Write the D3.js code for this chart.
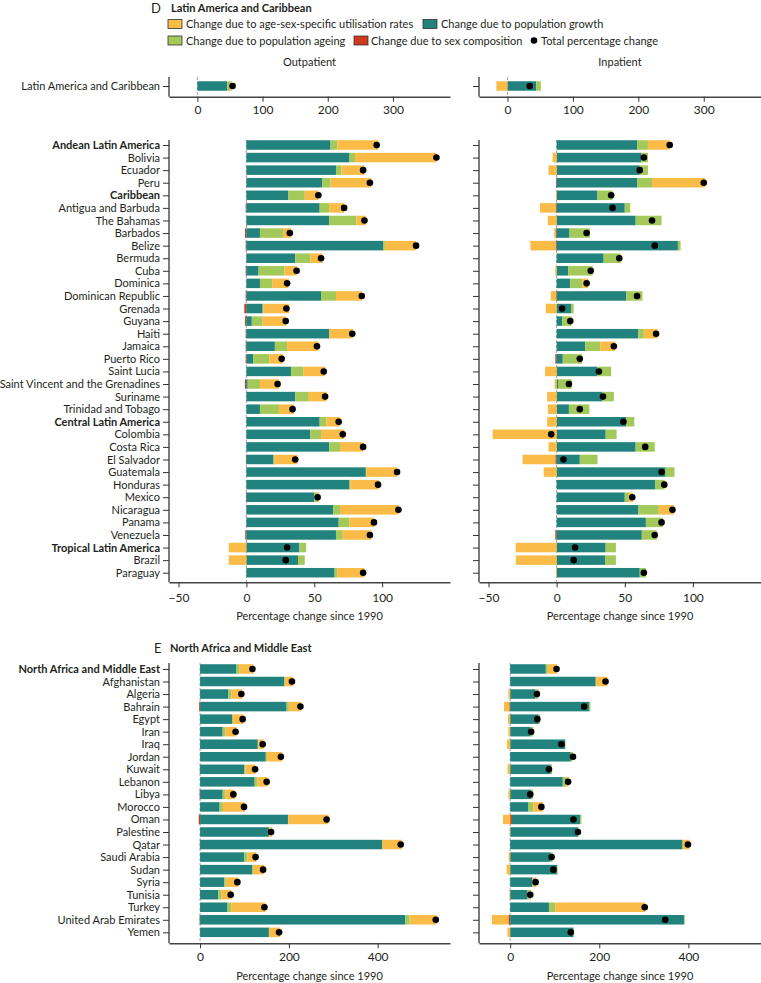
<!DOCTYPE html>
<html><head><meta charset="utf-8">
<script src="https://cdn.jsdelivr.net/npm/d3@7"></script>
<style>
body{margin:0;background:#fff}
svg{display:block}
text{font-family:Lato,"Noto Sans",sans-serif;fill:#231f20}
</style>
</head><body>
<svg id="c" width="761" height="983"></svg>
<script>
// ---------- DATA ----------
const legendLabels = ["Change due to age-sex-specific utilisation rates","Change due to population growth","Change due to population ageing","Change due to sex composition","Total percentage change"];

const topCats = ["Latin America and Caribbean"];
const topOutGrowth = [46], topOutAgeing = [5], topOutUtil = [2], topOutSex = [0], topOutTotal = [54];
const topInGrowth = [44], topInAgeing = [7], topInUtil = [-17], topInSex = [0], topInTotal = [34];
const topTicks = [0,100,200,300];

const dCats = ["Andean Latin America","Bolivia","Ecuador","Peru","Caribbean","Antigua and Barbuda","The Bahamas","Barbados","Belize","Bermuda","Cuba","Dominica","Dominican Republic","Grenada","Guyana","Haiti","Jamaica","Puerto Rico","Saint Lucia","Saint Vincent and the Grenadines","Suriname","Trinidad and Tobago","Central Latin America","Colombia","Costa Rica","El Salvador","Guatemala","Honduras","Mexico","Nicaragua","Panama","Venezuela","Tropical Latin America","Brazil","Paraguay"];
const dBold = ["Andean Latin America","Caribbean","Central Latin America","Tropical Latin America"];
const dOutGrowth = [62,76,66,56,31,54,61,10,101,36,9,10,55,12,4,61,21,5,33,1,36,10,54,47,61,20,88,76,50,64,68,66,39,38,65];
const dOutAgeing = [5,4,4,6,12,7,20,17,1,11,19,9,11,0.5,8,0.5,9,12,9,9,10,14,5,8,8,0.5,0.3,0.5,3,5,8,5,5,5,2];
const dOutUtil   = [30,60,17,30,10,11,7,6,23,9,9,12,19,19,17,17,23,10,16,14,13,11,10,17,17,17,23,21,0.5,43,18,21,-13,-13,20];
const dOutSex    = [0,0,0,0,0,-0.5,0,-1,-0.5,0,-0.5,0,-0.5,-1.5,-1,-0.5,-0.5,-0.5,0,-1,0,0,0,0,0,-0.3,0,0,-0.3,0,0,-0.8,0,0,0];
const dOutTotal  = [96,140,86,91,53,72,87,32,125,55,37,30,85,29.5,29,78,52,26,57,23,58,34,68,71,86,36,111,97,52.5,112,94,91,30,29,86];
const dInGrowth  = [59,62,61,59,30,50,58,9.5,89,34.5,8.5,10,51,10.5,4,60,21,4.5,30,1,33.5,9,51,36,58,17,80,72.5,50,60,65.5,62.5,36,35.5,61];
const dInAgeing  = [8,5,6,11,11,4,19,15,2,12,18,9,12,2,7,4,11,14,10,10,8.5,15,6,8,14,13,6.5,6.5,3,15,12.5,11,7.5,8,4.5];
const dInUtil    = [16,-3,-6,39,-0.5,-11.5,-6.5,-1,-18.5,0.5,-1,4,-4,-8,0,10,11,0,-8.5,-1.5,-7,-6.5,-7,-47,-6,-24,-9.5,0.5,3,11,0,0,-30,-30,-0.5];
const dInSex     = [0,0,0,-0.5,0,-0.8,0,-0.8,-0.8,0,0,0,-0.3,0,0,0,0,-1,0,0,0,0,0,0,0,-1,0,0,0,0,0,-1,0,0,0];
const dInTotal   = [83,64,61,108,40,41,70,22,72,46,25,22,59,4,10,73,42,17,31,9,34,17,49,-4,65,5,77,79,55.5,85,77,72,13.5,12.5,64];
const dTicks = [-50,0,50,100];

const eCats = ["North Africa and Middle East","Afghanistan","Algeria","Bahrain","Egypt","Iran","Iraq","Jordan","Kuwait","Lebanon","Libya","Morocco","Oman","Palestine","Qatar","Saudi Arabia","Sudan","Syria","Tunisia","Turkey","United Arab Emirates","Yemen"];
const eBold = ["North Africa and Middle East"];
const eOutGrowth = [82,190,64,195,72,51,130,148,100,123,51,44,198,155,410,100,118,55,41,62,462,155];
const eOutAgeing = [6,1.5,7,5,2,6,1.5,3,2,6,6,7.5,1,0.5,0.5,7,1,3,7.5,8,10,0.5];
const eOutUtil   = [32,18,24,28,24,25,12,34,23,23,21,49,90,7,44,20,25,28,22.5,77,61,25];
const eOutSex    = [0,0,0,-2,0,0,0,0,-0.5,0,-1,0,-3,0,-0.5,0,0,0,0,0,-1,0];
const eOutTotal  = [118,207,93,226,96,80,141,182,124,150,75,99,285,160,452,125,142,84,69,145,531,178];
const eInGrowth  = [80,192,57,177,64,46,123,136,91,118,47,40,153,152,387,91,105,50,39,87,390,142];
const eInAgeing  = [4.5,1,7,3,3,6,1,3,3,7.5,4.5,12,3,2,0.5,4.5,1,3,8,14,2,0.5];
const eInUtil    = [21,25,-4,-12,-5,-4,-7,2,-6,6,-4,21,-16,-1,15,-3.5,-8,6,-1.5,202,-37,-6];
const eInSex     = [0,0,0,-2,0,0,0,0,0,0,0,0,4,0,0,0,0,0,0,0,-4,0];
const eInTotal   = [104,214,60,166,61,47,115,141,87,130,45,70,142,152,399,93,97,57,45,302,348,136];
const eTicks = [0,200,400];

// ---------- DRAW ----------
const COL = {growth:"#22827d", ageing:"#a3c95a", util:"#fbbb47", sex:"#d03a1c"};
const ORDER = ["sex","growth","ageing","util"];
const svg = d3.select("#c");
const LEFT = [169, 450], RIGHT = [479, 761];
const BAR_H = 9.5;

function panel(opt){
  const g = svg.append("g");
  const x = d3.scaleLinear().domain(opt.xDomain).range(opt.xRange);
  const y = d3.scalePoint().domain(opt.cats).range(opt.yRange).padding(0.5);
  g.append("line").attr("x1",x(0)).attr("x2",x(0)).attr("y1",opt.lineTop).attr("y2",opt.axisY)
    .attr("stroke","#9aa3a6").attr("stroke-width",1).attr("stroke-dasharray","3,2");
  opt.cats.forEach((c,i)=>{
    let pos=0, neg=0;
    ORDER.forEach(k=>{
      const v = opt.series[k][i];
      if(!v) return;
      let a,b;
      if(v>=0){a=pos; pos+=v; b=pos;} else {b=neg; neg+=v; a=neg;}
      g.append("rect").attr("x",x(a)).attr("width",Math.max(0.6,x(b)-x(a)))
        .attr("y",y(c)-BAR_H/2).attr("height",BAR_H).attr("fill",COL[k]);
    });
  });
  g.selectAll("circle.tot").data(opt.cats).enter().append("circle")
    .attr("cx",(c,i)=>x(opt.total[i])).attr("cy",c=>y(c)).attr("r",3.3).attr("fill","#000");
  g.append("line").attr("x1",opt.xRange[0]).attr("x2",opt.xRange[0]).attr("y1",opt.lineTop).attr("y2",opt.axisY)
    .attr("stroke","#444").attr("stroke-width",1.4);
  const ya = d3.axisLeft(y).tickSize(6).tickPadding(3);
  if(!opt.labels) ya.tickFormat("");
  const yg = g.append("g").attr("transform",`translate(${opt.xRange[0]},0)`).call(ya);
  yg.select(".domain").remove();
  yg.selectAll("line").attr("stroke","#333");
  yg.selectAll("text").style("font-size","11px").attr("fill","#231f20")
    .style("font-weight",d=>opt.bold && opt.bold.includes(d)?"700":"400");
  const xa = d3.axisBottom(x).tickValues(opt.ticks).tickSize(5).tickSizeOuter(0).tickPadding(opt.tickPad);
  const xg = g.append("g").attr("transform",`translate(0,${opt.axisY})`).call(xa);
  xg.select(".domain").attr("stroke","#444").attr("stroke-width",1.4);
  xg.selectAll("line").attr("stroke","#333");
  xg.selectAll("text").style("font-size","12px").attr("fill","#231f20");
  if(opt.title){
    g.append("text").attr("x",(opt.xRange[0]+opt.xRange[1])/2).attr("y",opt.titleY)
      .attr("text-anchor","middle").style("font-size","11px").text(opt.title);
  }
}

function ser(g,a,u,s){return {growth:g,ageing:a,util:u,sex:s};}

// Header D
svg.append("text").attr("x",151).attr("y",13).style("font-size","13px").text("D");
svg.append("text").attr("x",171).attr("y",11.5).style("font-size","11px").style("font-weight","700").text("Latin America and Caribbean");

// Legend
const legendItems = [
  {t:legendLabels[0], c:COL.util, x:168, tx:186, y:24},
  {t:legendLabels[1], c:COL.growth, x:423, tx:441, y:24},
  {t:legendLabels[2], c:COL.ageing, x:168, tx:186, y:40.5},
  {t:legendLabels[3], c:COL.sex, x:354, tx:371, y:40.5},
];
legendItems.forEach(d=>{
  svg.append("rect").attr("x",d.x).attr("y",d.y-4.5).attr("width",14).attr("height",9)
    .attr("fill",d.c).attr("stroke","#333").attr("stroke-width",0.8);
  svg.append("text").attr("x",d.tx).attr("y",d.y+4).style("font-size","11px").text(d.t);
});
svg.append("circle").attr("cx",534).attr("cy",40.5).attr("r",3.3).attr("fill","#000");
svg.append("text").attr("x",541).attr("y",44.5).style("font-size","11px").text(legendLabels[4]);

svg.append("text").attr("x",(LEFT[0]+LEFT[1])/2).attr("y",66).attr("text-anchor","middle").style("font-size","11px").text("Outpatient");
svg.append("text").attr("x",(RIGHT[0]+RIGHT[1])/2).attr("y",66).attr("text-anchor","middle").style("font-size","11px").text("Inpatient");

// Top panels
const topY = [80.5, 91.5];
panel({cats:topCats, series:ser(topOutGrowth,topOutAgeing,topOutUtil,topOutSex), total:topOutTotal,
  xDomain:[-43.5,387.5], xRange:LEFT, yRange:topY, lineTop:77, axisY:96.7, ticks:topTicks, tickPad:4, labels:true});
panel({cats:topCats, series:ser(topInGrowth,topInAgeing,topInUtil,topInSex), total:topInTotal,
  xDomain:[-43.5,387.5], xRange:RIGHT, yRange:topY, lineTop:77, axisY:96.7, ticks:topTicks, tickPad:4, labels:false});

// D panels
const dY = [138.7, 579];
panel({cats:dCats, bold:dBold, series:ser(dOutGrowth,dOutAgeing,dOutUtil,dOutSex), total:dOutTotal,
  xDomain:[-57,150], xRange:LEFT, yRange:dY, lineTop:140, axisY:582.3, ticks:dTicks, tickPad:6,
  labels:true, title:"Percentage change since 1990", titleY:620});
panel({cats:dCats, series:ser(dInGrowth,dInAgeing,dInUtil,dInSex), total:dInTotal,
  xDomain:[-57,150], xRange:RIGHT, yRange:dY, lineTop:140, axisY:582.3, ticks:dTicks, tickPad:6,
  labels:false, title:"Percentage change since 1990", titleY:620});

// Header E
svg.append("text").attr("x",154).attr("y",653).style("font-size","13px").text("E");
svg.append("text").attr("x",170).attr("y",652).style("font-size","11px").style("font-weight","700").text("North Africa and Middle East");

const eY = [662.7, 938.6];
panel({cats:eCats, bold:eBold, series:ser(eOutGrowth,eOutAgeing,eOutUtil,eOutSex), total:eOutTotal,
  xDomain:[-70,563], xRange:LEFT, yRange:eY, lineTop:663, axisY:943.3, ticks:eTicks, tickPad:4,
  labels:true, title:"Percentage change since 1990", titleY:980});
panel({cats:eCats, series:ser(eInGrowth,eInAgeing,eInUtil,eInSex), total:eInTotal,
  xDomain:[-70,563], xRange:RIGHT, yRange:eY, lineTop:663, axisY:943.3, ticks:eTicks, tickPad:4,
  labels:false, title:"Percentage change since 1990", titleY:980});
</script>
</body></html>
